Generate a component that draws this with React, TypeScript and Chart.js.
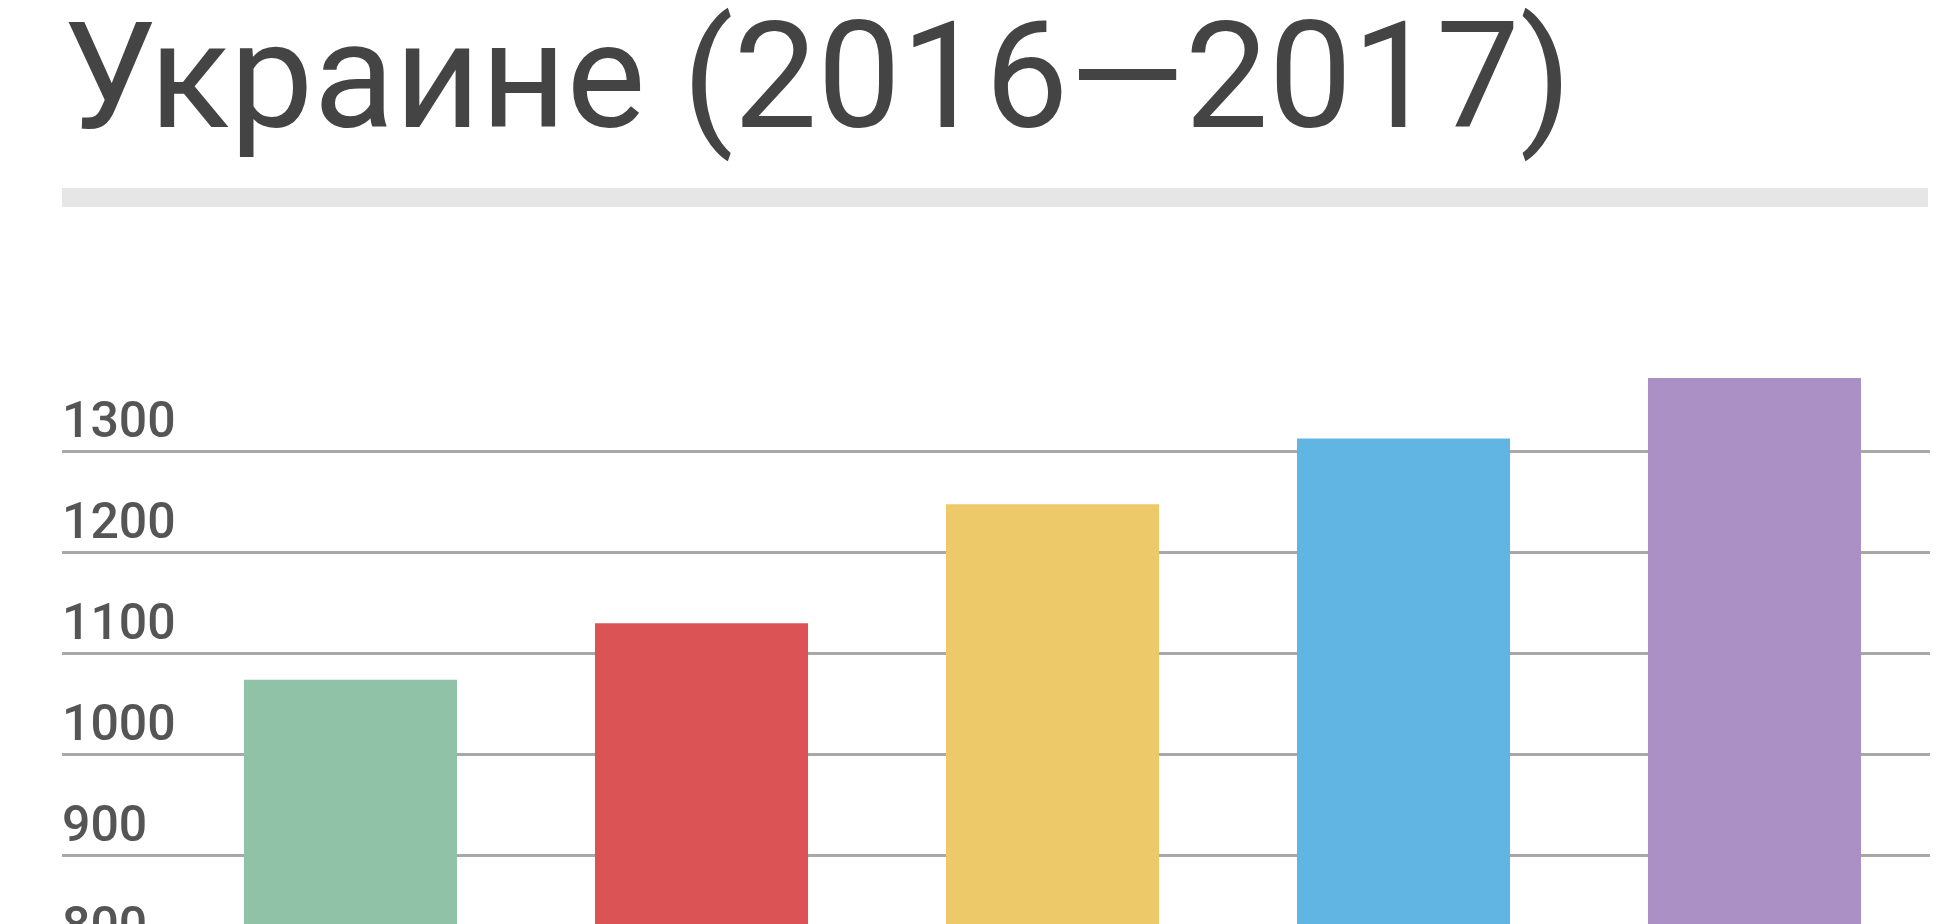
import React, { useEffect, useRef } from "react";
import Chart from "chart.js/auto";

const title = "Украине (2016—2017)";
const categories = ["2016 I", "2016 II", "2016 III", "2016 IV", "2017 I"];
const values = [1074, 1130, 1248, 1313, 1373];
const barColors = ["#8fc2a6", "#dc5356", "#eec96a", "#61b5e3", "#ab90c6"];
const yMin = 700;
const yMax = 1380;
const yStep = 100;

export default function App() {
  const canvasRef = useRef<HTMLCanvasElement | null>(null);
  const chartRef = useRef<Chart | null>(null);

  useEffect(() => {
    if (!canvasRef.current) return;
    if (chartRef.current) chartRef.current.destroy();

    chartRef.current = new Chart(canvasRef.current, {
      type: "bar",
      data: {
        labels: categories,
        datasets: [
          {
            data: values,
            backgroundColor: barColors,
            borderWidth: 0,
            categoryPercentage: 1,
            barPercentage: 0.607,
          },
        ],
      },
      options: {
        animation: false,
        responsive: true,
        maintainAspectRatio: false,
        layout: { padding: { left: 62, right: 14, top: 71, bottom: 0 } },
        plugins: {
          legend: { display: false },
          tooltip: { enabled: false },
        },
        scales: {
          x: { display: false },
          y: {
            min: yMin,
            max: yMax,
            border: { display: false },
            grid: {
              color: "#a8a8a8",
              lineWidth: 3,
              drawTicks: true,
              tickLength: 113,
            },
            ticks: {
              stepSize: yStep,
              crossAlign: "far",
              labelOffset: -27,
              color: "#555555",
              font: { family: "Roboto", size: 50, weight: "500" },
              callback: (v: any) => String(v),
            },
            afterBuildTicks: (scale: any) => {
              scale.ticks = scale.ticks.filter((t: any) => t.value % yStep === 0);
            },
            afterFit: (scale: any) => {
              scale.width = 113;
            },
          },
        },
      },
    });

    return () => {
      chartRef.current?.destroy();
      chartRef.current = null;
    };
  }, []);

  return (
    <div
      style={{
        position: "fixed",
        left: 0,
        top: 0,
        width: 1944,
        height: 924,
        overflow: "hidden",
        background: "#ffffff",
      }}
    >
      <div
        style={{
          position: "absolute",
          left: 63,
          top: 2,
          fontFamily: "Roboto",
          fontSize: 149,
          lineHeight: "149px",
          color: "#444444",
          whiteSpace: "nowrap",
        }}
      >
        {title}
      </div>
      <div
        style={{
          position: "absolute",
          left: 62,
          top: 188,
          width: 1866,
          height: 19,
          background: "#e6e6e6",
        }}
      />
      <div style={{ position: "absolute", left: 0, top: 300, width: 1944, height: 790 }}>
        <canvas ref={canvasRef} />
      </div>
    </div>
  );
}
